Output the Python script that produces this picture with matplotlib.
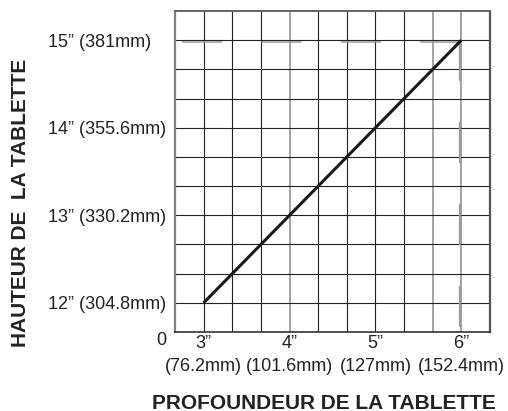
import numpy as np
import matplotlib.pyplot as plt

plt.rcParams['font.family'] = ['Liberation Sans', 'DejaVu Sans']
plt.rcParams['lines.scale_dashes'] = False

# shelf depth vs shelf height (inches)
depth_in = [3, 6]
height_in = [12, 15]

x_ticks = [3, 4, 5, 6]
x_labels = ['3”\n(76.2mm)', '4”\n(101.6mm)', '5”\n(127mm)', '6”\n(152.4mm)']
y_ticks = [12, 13, 14, 15]
y_labels = ['12” (304.8mm)', '13” (330.2mm)', '14” (355.6mm)', '15” (381mm)']

# grid every 1/3 inch
x_grid = np.arange(9, 19) / 3
y_grid = np.arange(36, 46) / 3
x_grid_gray = [4, 17 / 3, 6]

fig = plt.figure(figsize=(5.08, 4.11), dpi=100)
ax = fig.add_axes([175 / 508, 79 / 411, 315 / 508, 321 / 411])
ax.set_xlim(8 / 3, 19 / 3)
ax.set_ylim(35 / 3, 46 / 3)

for gx in x_grid:
    gray = any(abs(gx - g) < 1e-6 for g in x_grid_gray)
    ax.axvline(gx, color='#8a8a8a' if gray else '#222222',
               lw=1.1 if gray else 0.8, zorder=1)
for gy in y_grid:
    ax.axhline(gy, color='#222222', lw=0.8, zorder=1)

# faint dashed guide lines
ax.plot([2.745, 6], [14.98, 14.98], color='#9a9a9a', lw=1.1,
        dashes=(28.8, 28.4), zorder=2)
ax.plot([5.98, 5.98], [15, 11.72], color='#9a9a9a', lw=1.6,
        dashes=(29.5, 29.5), zorder=2)

ax.plot(depth_in, height_in, color='#1a1a1a', lw=2.2, zorder=3,
        solid_capstyle='butt')

for side, c, w in [('left', '#808080', 1.6), ('right', '#555555', 1.6),
                   ('top', '#666666', 1.4), ('bottom', '#333333', 1.2)]:
    ax.spines[side].set_color(c)
    ax.spines[side].set_linewidth(w)

ax.set_xticks(x_ticks)
ax.set_xticklabels(x_labels, fontsize=13, color='#222222', linespacing=1.5)
ax.set_yticks(y_ticks)
ax.set_yticklabels(y_labels, fontsize=13, color='#222222', ha='left')
ax.tick_params(axis='x', length=0, pad=2)
ax.tick_params(axis='y', length=0, pad=91.4)

fig.text(161 / 508, 1 - 340 / 411, '0', ha='center', va='center',
         fontsize=13, color='#222222')
fig.text(21 / 508, 1 - 203 / 411, 'HAUTEUR DE  LA TABLETTE', rotation=90,
         ha='center', va='center', fontsize=15, fontweight='bold',
         color='#222222')
fig.text(323.5 / 508, 1 - 403 / 411, 'PROFOUNDEUR DE LA TABLETTE',
         ha='center', va='center', fontsize=15, fontweight='bold',
         color='#222222')

fig.savefig('out.png', dpi=100)
